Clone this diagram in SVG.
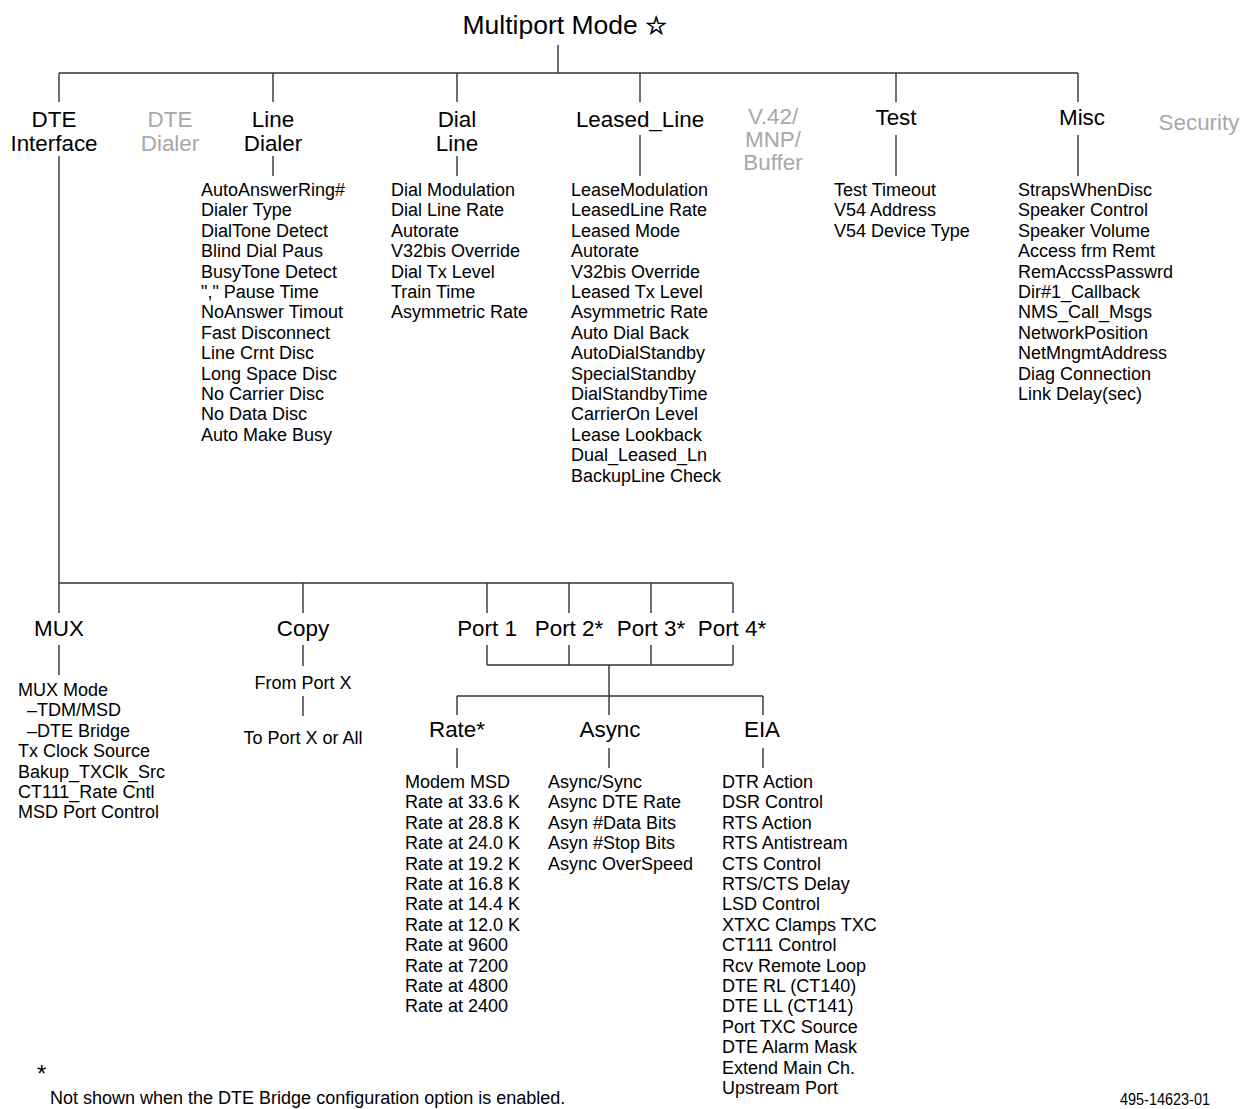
<svg xmlns="http://www.w3.org/2000/svg" width="1243" height="1109" viewBox="0 0 1243 1109">
<style>
  text { font-family: "Liberation Sans", Arial, sans-serif; fill: #000; }
  .title { font-size: 26.5px; text-anchor: middle; }
  .h { font-size: 22.4px; text-anchor: middle; }
  .g { fill: #a8a8a8; }
  .item { font-size: 18px; }
  .c { text-anchor: middle; }
  .conn line { stroke: #333; stroke-width: 1.4; fill: none; }
</style>
<rect width="1243" height="1109" fill="#fff"/>

<g id="connectors" class="conn">
  <line x1="558" y1="45" x2="558" y2="73"/>
  <line x1="59" y1="73" x2="1078" y2="73"/>
  <line x1="59" y1="73" x2="59" y2="102"/>
  <line x1="273" y1="73" x2="273" y2="102"/>
  <line x1="457" y1="73" x2="457" y2="102"/>
  <line x1="640" y1="73" x2="640" y2="102"/>
  <line x1="896" y1="73" x2="896" y2="102"/>
  <line x1="1078" y1="73" x2="1078" y2="102"/>
  <line x1="273" y1="156" x2="273" y2="176"/>
  <line x1="457" y1="156" x2="457" y2="176"/>
  <line x1="640" y1="135" x2="640" y2="176"/>
  <line x1="896" y1="135" x2="896" y2="176"/>
  <line x1="1078" y1="135" x2="1078" y2="176"/>
  <line x1="59" y1="156" x2="59" y2="613"/>
  <line x1="59" y1="583" x2="733" y2="583"/>
  <line x1="303" y1="583" x2="303" y2="613"/>
  <line x1="487" y1="583" x2="487" y2="613"/>
  <line x1="569" y1="583" x2="569" y2="613"/>
  <line x1="651" y1="583" x2="651" y2="613"/>
  <line x1="733" y1="583" x2="733" y2="613"/>
  <line x1="59" y1="645" x2="59" y2="675"/>
  <line x1="303" y1="645" x2="303" y2="666"/>
  <line x1="303" y1="696" x2="303" y2="716"/>
  <line x1="487" y1="645" x2="487" y2="665"/>
  <line x1="569" y1="645" x2="569" y2="665"/>
  <line x1="651" y1="645" x2="651" y2="665"/>
  <line x1="733" y1="645" x2="733" y2="665"/>
  <line x1="487" y1="665" x2="733" y2="665"/>
  <line x1="609" y1="665" x2="609" y2="715"/>
  <line x1="457" y1="696" x2="763" y2="696"/>
  <line x1="457" y1="696" x2="457" y2="715"/>
  <line x1="763" y1="696" x2="763" y2="715"/>
  <line x1="457" y1="748" x2="457" y2="768"/>
  <line x1="609" y1="748" x2="609" y2="768"/>
  <line x1="763" y1="748" x2="763" y2="768"/>
</g>

<g id="multiport-mode">
  <text class="title" x="565" y="34">Multiport Mode <tspan font-family="DejaVu Sans, sans-serif" font-size="25" stroke="#000" stroke-width="0.7">☆</tspan></text>
</g>

<g id="dte-interface">
  <text class="h" x="54" y="127">DTE</text>
  <text class="h" x="54" y="151">Interface</text>
</g>

<g id="dte-dialer">
  <text class="h g" x="170" y="127">DTE</text>
  <text class="h g" x="170" y="151">Dialer</text>
</g>

<g id="line-dialer">
  <text class="h" x="273" y="127">Line</text>
  <text class="h" x="273" y="151">Dialer</text>
  <text class="item" x="201" y="196">AutoAnswerRing#</text>
  <text class="item" x="201" y="216.4">Dialer Type</text>
  <text class="item" x="201" y="236.8">DialTone Detect</text>
  <text class="item" x="201" y="257.2">Blind Dial Paus</text>
  <text class="item" x="201" y="277.6">BusyTone Detect</text>
  <text class="item" x="201" y="298">"," Pause Time</text>
  <text class="item" x="201" y="318.4">NoAnswer Timout</text>
  <text class="item" x="201" y="338.8">Fast Disconnect</text>
  <text class="item" x="201" y="359.2">Line Crnt Disc</text>
  <text class="item" x="201" y="379.6">Long Space Disc</text>
  <text class="item" x="201" y="400">No Carrier Disc</text>
  <text class="item" x="201" y="420.4">No Data Disc</text>
  <text class="item" x="201" y="440.8">Auto Make Busy</text>
</g>

<g id="dial-line">
  <text class="h" x="457" y="127">Dial</text>
  <text class="h" x="457" y="151">Line</text>
  <text class="item" x="391" y="196">Dial Modulation</text>
  <text class="item" x="391" y="216.4">Dial Line Rate</text>
  <text class="item" x="391" y="236.8">Autorate</text>
  <text class="item" x="391" y="257.2">V32bis Override</text>
  <text class="item" x="391" y="277.6">Dial Tx Level</text>
  <text class="item" x="391" y="298">Train Time</text>
  <text class="item" x="391" y="318.4">Asymmetric Rate</text>
</g>

<g id="leased-line">
  <text class="h" x="640" y="127">Leased_Line</text>
  <text class="item" x="571" y="196">LeaseModulation</text>
  <text class="item" x="571" y="216.4">LeasedLine Rate</text>
  <text class="item" x="571" y="236.8">Leased Mode</text>
  <text class="item" x="571" y="257.2">Autorate</text>
  <text class="item" x="571" y="277.6">V32bis Override</text>
  <text class="item" x="571" y="298">Leased Tx Level</text>
  <text class="item" x="571" y="318.4">Asymmetric Rate</text>
  <text class="item" x="571" y="338.8">Auto Dial Back</text>
  <text class="item" x="571" y="359.2">AutoDialStandby</text>
  <text class="item" x="571" y="379.6">SpecialStandby</text>
  <text class="item" x="571" y="400">DialStandbyTime</text>
  <text class="item" x="571" y="420.4">CarrierOn Level</text>
  <text class="item" x="571" y="440.8">Lease Lookback</text>
  <text class="item" x="571" y="461.2">Dual_Leased_Ln</text>
  <text class="item" x="571" y="481.6">BackupLine Check</text>
</g>

<g id="v42-mnp-buffer">
  <text class="h g" x="773" y="124">V.42/</text>
  <text class="h g" x="773" y="147">MNP/</text>
  <text class="h g" x="773" y="170">Buffer</text>
</g>

<g id="test">
  <text class="h" x="896" y="125">Test</text>
  <text class="item" x="834" y="196">Test Timeout</text>
  <text class="item" x="834" y="216.4">V54 Address</text>
  <text class="item" x="834" y="236.8">V54 Device Type</text>
</g>

<g id="misc">
  <text class="h" x="1082" y="125">Misc</text>
  <text class="item" x="1018" y="196">StrapsWhenDisc</text>
  <text class="item" x="1018" y="216.4">Speaker Control</text>
  <text class="item" x="1018" y="236.8">Speaker Volume</text>
  <text class="item" x="1018" y="257.2">Access frm Remt</text>
  <text class="item" x="1018" y="277.6">RemAccssPasswrd</text>
  <text class="item" x="1018" y="298">Dir#1_Callback</text>
  <text class="item" x="1018" y="318.4">NMS_Call_Msgs</text>
  <text class="item" x="1018" y="338.8">NetworkPosition</text>
  <text class="item" x="1018" y="359.2">NetMngmtAddress</text>
  <text class="item" x="1018" y="379.6">Diag Connection</text>
  <text class="item" x="1018" y="400">Link Delay(sec)</text>
</g>

<g id="security">
  <text class="h g" x="1199" y="130">Security</text>
</g>

<g id="mux">
  <text class="h" x="59" y="636">MUX</text>
  <text class="item" x="18" y="696">MUX Mode</text>
  <text class="item" x="27" y="716.4">–TDM/MSD</text>
  <text class="item" x="27" y="736.8">–DTE Bridge</text>
  <text class="item" x="18" y="757.2">Tx Clock Source</text>
  <text class="item" x="18" y="777.6">Bakup_TXClk_Src</text>
  <text class="item" x="18" y="798">CT111_Rate Cntl</text>
  <text class="item" x="18" y="818.4">MSD Port Control</text>
</g>

<g id="copy">
  <text class="h" x="303" y="636">Copy</text>
  <text class="item c" x="303" y="689">From Port X</text>
  <text class="item c" x="303" y="744">To Port X or All</text>
</g>

<g id="port-1"><text class="h" x="487" y="636">Port 1</text></g>
<g id="port-2"><text class="h" x="569" y="636">Port 2*</text></g>
<g id="port-3"><text class="h" x="651" y="636">Port 3*</text></g>
<g id="port-4"><text class="h" x="732" y="636">Port 4*</text></g>

<g id="rate">
  <text class="h" x="457" y="737">Rate*</text>
  <text class="item" x="405" y="788">Modem MSD</text>
  <text class="item" x="405" y="808.4">Rate at 33.6 K</text>
  <text class="item" x="405" y="828.8">Rate at 28.8 K</text>
  <text class="item" x="405" y="849.2">Rate at 24.0 K</text>
  <text class="item" x="405" y="869.6">Rate at 19.2 K</text>
  <text class="item" x="405" y="890">Rate at 16.8 K</text>
  <text class="item" x="405" y="910.4">Rate at 14.4 K</text>
  <text class="item" x="405" y="930.8">Rate at 12.0 K</text>
  <text class="item" x="405" y="951.2">Rate at 9600</text>
  <text class="item" x="405" y="971.6">Rate at 7200</text>
  <text class="item" x="405" y="992">Rate at 4800</text>
  <text class="item" x="405" y="1012.4">Rate at 2400</text>
</g>

<g id="async">
  <text class="h" x="610" y="737">Async</text>
  <text class="item" x="548" y="788">Async/Sync</text>
  <text class="item" x="548" y="808.4">Async DTE Rate</text>
  <text class="item" x="548" y="828.8">Asyn #Data Bits</text>
  <text class="item" x="548" y="849.2">Asyn #Stop Bits</text>
  <text class="item" x="548" y="869.6">Async OverSpeed</text>
</g>

<g id="eia">
  <text class="h" x="762" y="737">EIA</text>
  <text class="item" x="722" y="788">DTR Action</text>
  <text class="item" x="722" y="808.4">DSR Control</text>
  <text class="item" x="722" y="828.8">RTS Action</text>
  <text class="item" x="722" y="849.2">RTS Antistream</text>
  <text class="item" x="722" y="869.6">CTS Control</text>
  <text class="item" x="722" y="890">RTS/CTS Delay</text>
  <text class="item" x="722" y="910.4">LSD Control</text>
  <text class="item" x="722" y="930.8">XTXC Clamps TXC</text>
  <text class="item" x="722" y="951.2">CT111 Control</text>
  <text class="item" x="722" y="971.6">Rcv Remote Loop</text>
  <text class="item" x="722" y="992">DTE RL (CT140)</text>
  <text class="item" x="722" y="1012.4">DTE LL (CT141)</text>
  <text class="item" x="722" y="1032.8">Port TXC Source</text>
  <text class="item" x="722" y="1053.2">DTE Alarm Mask</text>
  <text class="item" x="722" y="1073.6">Extend Main Ch.</text>
  <text class="item" x="722" y="1094">Upstream Port</text>
</g>

<g id="footnote">
  <text x="37" y="1082" font-size="24">*</text>
  <text class="item" x="50" y="1104">Not shown when the DTE Bridge configuration option is enabled.</text>
</g>

<g id="figure-number">
  <text x="1120" y="1105" font-size="16" textLength="90" lengthAdjust="spacingAndGlyphs">495-14623-01</text>
</g>
</svg>
